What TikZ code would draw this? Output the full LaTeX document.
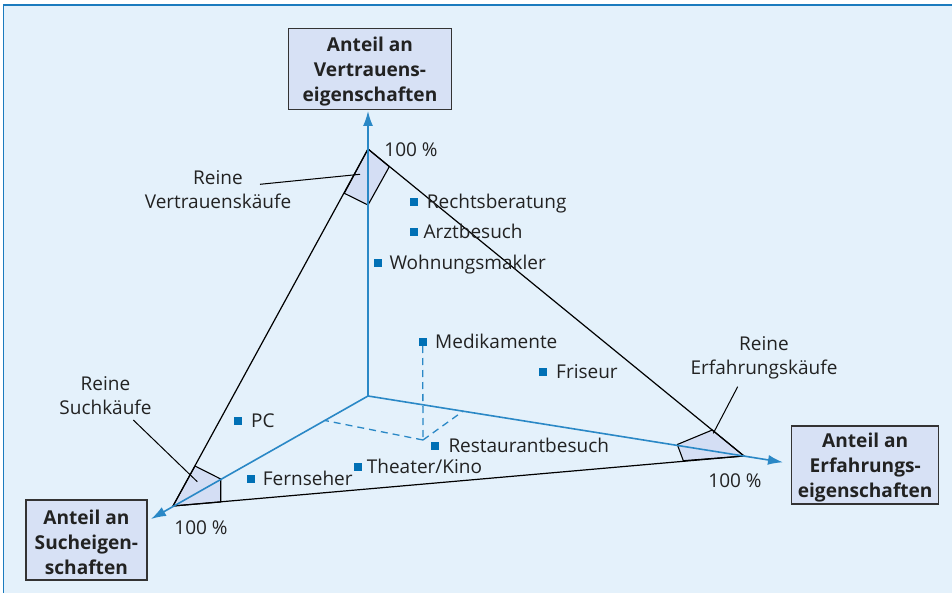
\documentclass[tikz,border=0pt]{standalone}
\usepackage{fontspec}
\setmainfont{Open Sans}
\usetikzlibrary{arrows.meta}
\definecolor{bg}{HTML}{E4F1FB}
\definecolor{framec}{HTML}{1B7BBE}
\definecolor{axisc}{HTML}{2A88C6}
\definecolor{ptc}{HTML}{0070B5}
\definecolor{boxfill}{HTML}{D7E1F5}
\definecolor{boxline}{HTML}{333333}
\definecolor{quadfill}{HTML}{D4DEF4}
\definecolor{txt}{HTML}{222222}
\begin{document}
\begin{tikzpicture}[x=1pt,y=-1pt,
  every node/.style={text=txt},
  frameline/.style={draw=framec,line width=1.4pt},
  tri/.style={draw=black,line width=1.2pt,line join=round},
  quad/.style={fill=quadfill,draw=black,line width=1.1pt,line join=round},
  axis/.style={draw=axisc,line width=1.6pt,-{Latex[length=15pt,width=10pt]}},
  dashline/.style={draw=axisc,line width=1.3pt,dash pattern=on 7pt off 5pt},
  leader/.style={draw=black,line width=1pt},
  pt/.style={rectangle,fill=ptc,minimum size=8pt,inner sep=0pt,outer sep=0pt},
  lbl/.style={anchor=base west,inner sep=0pt,font=\fontsize{19}{24}\selectfont},
  puretxt/.style={align=center,inner sep=0pt,font=\fontsize{19}{24}\selectfont},
  pct/.style={inner sep=0pt,font=\fontsize{19}{24}\selectfont},
  axbox/.style={draw=boxline,fill=boxfill,line width=1.3pt,align=center,inner sep=0pt,
    font=\bfseries\fontsize{19.1}{25}\selectfont}
]
\useasboundingbox (0,0) rectangle (952,593);
\fill[bg] (3.5,5) rectangle (952,593);
\draw[frameline] (3.5,593) -- (3.5,5) -- (952,5);

% key points
\coordinate (O) at (368,396);
\coordinate (T) at (368,149);
\coordinate (L) at (173,506);
\coordinate (R) at (744,456);
\coordinate (tipV) at (368,111);
\coordinate (tipL) at (151,519);
\coordinate (tipR) at (783,462.3);

% corner quads
\coordinate (qT1) at (389.3,166.7);
\coordinate (qT2) at (368,205);
\coordinate (qT3) at (344.3,193.3);
\coordinate (qL1) at (195,466);
\coordinate (qL2) at (220.7,479);
\coordinate (qL3) at (220.7,502);
\coordinate (qR1) at (712.3,430);
\coordinate (qR2) at (677.3,444.5);
\coordinate (qR3) at (683.3,460.7);
\filldraw[quad] (T) -- (qT1) -- (qT2) -- (qT3) -- cycle;
\filldraw[quad] (L) -- (qL1) -- (qL2) -- (qL3) -- cycle;
\filldraw[quad] (R) -- (qR1) -- (qR2) -- (qR3) -- cycle;

% triangle
\draw[tri] (T) -- (L) -- (R) -- cycle;

% boxes
\node[axbox,minimum width=163pt,minimum height=81pt] (boxV) at (370,68.8)
  {\rule{0pt}{20pt}Anteil an\\Vertrauens-\\eigenschaften};
\node[axbox,minimum width=121pt,minimum height=80pt] (boxS) at (86.4,540)
  {\rule{0pt}{20pt}Anteil an\\Sucheigen-\\schaften};
\node[axbox,minimum width=147pt,minimum height=78pt] (boxE) at (865.2,464.9)
  {\rule{0pt}{20pt}Anteil an\\Erfahrungs-\\eigenschaften};

% axes
\draw[axis] (O) -- (tipV);
\draw[axis] (O) -- (tipL);
\draw[axis] (O) -- (tipR);

% points
\node[pt] (pRecht) at (414,202.3) {};
\node[pt] (pArzt) at (414,232.3) {};
\node[pt] (pWohn) at (378.3,262.7) {};
\node[pt] (pMed) at (422.7,342) {};
\node[pt] (pFris) at (542.7,371.7) {};
\node[pt] (pRest) at (435,446) {};
\node[pt] (pThea) at (358.3,466.7) {};
\node[pt] (pFern) at (251,479) {};
\node[pt] (pPC) at (237.7,420.7) {};

% dashed projection
\coordinate (P) at (423,440);
\coordinate (PL) at (325,420.5);
\coordinate (PR) at (463.3,411);
\draw[dashline] (pMed.south) -- (P);
\draw[dashline] (P) -- (PL);
\draw[dashline] (P) -- (PR);

% point labels
\node[lbl] (tRecht) at (426.7,208.8) {Rechtsberatung};
\node[lbl] (tArzt) at (423.3,238.8) {Arztbesuch};
\node[lbl] (tWohn) at (389.3,269.2) {Wohnungsmakler};
\node[lbl] (tMed) at (435,348.5) {Medikamente};
\node[lbl] (tFris) at (556,378.2) {Friseur};
\node[lbl] (tRest) at (448.3,452.5) {Restaurantbesuch};
\node[lbl] (tThea) at (366.7,473.2) {Theater/Kino};
\node[lbl] (tFern) at (262.7,485.5) {Fernseher};
\node[lbl] (tPC) at (251,427.2) {PC};

% percentages
\node[pct] (pc1) at (411,150) {100 \%};
\node[pct] (pc2) at (201,528) {100 \%};
\node[pct] (pc3) at (735,481) {100 \%};

% pure purchase labels with leaders
\node[puretxt] (cV) at (218,190) {Reine\\Vertrauenskäufe};
\node[puretxt] (cS) at (105.5,395.5) {Reine\\Suchkäufe};
\node[puretxt] (cE) at (764,357.5) {Reine\\Erfahrungskäufe};
\coordinate (lV1) at (260,184.3);
\coordinate (lV2) at (360,174.3);
\coordinate (lS1) at (133.3,420);
\coordinate (lS2) at (197.3,481.7);
\coordinate (lE1) at (737.7,386.7);
\coordinate (lE2) at (713.3,433.3);
\draw[leader] (lV1) -- (lV2);
\draw[leader] (lS1) -- (lS2);
\draw[leader] (lE1) -- (lE2);
\end{tikzpicture}
\end{document}
